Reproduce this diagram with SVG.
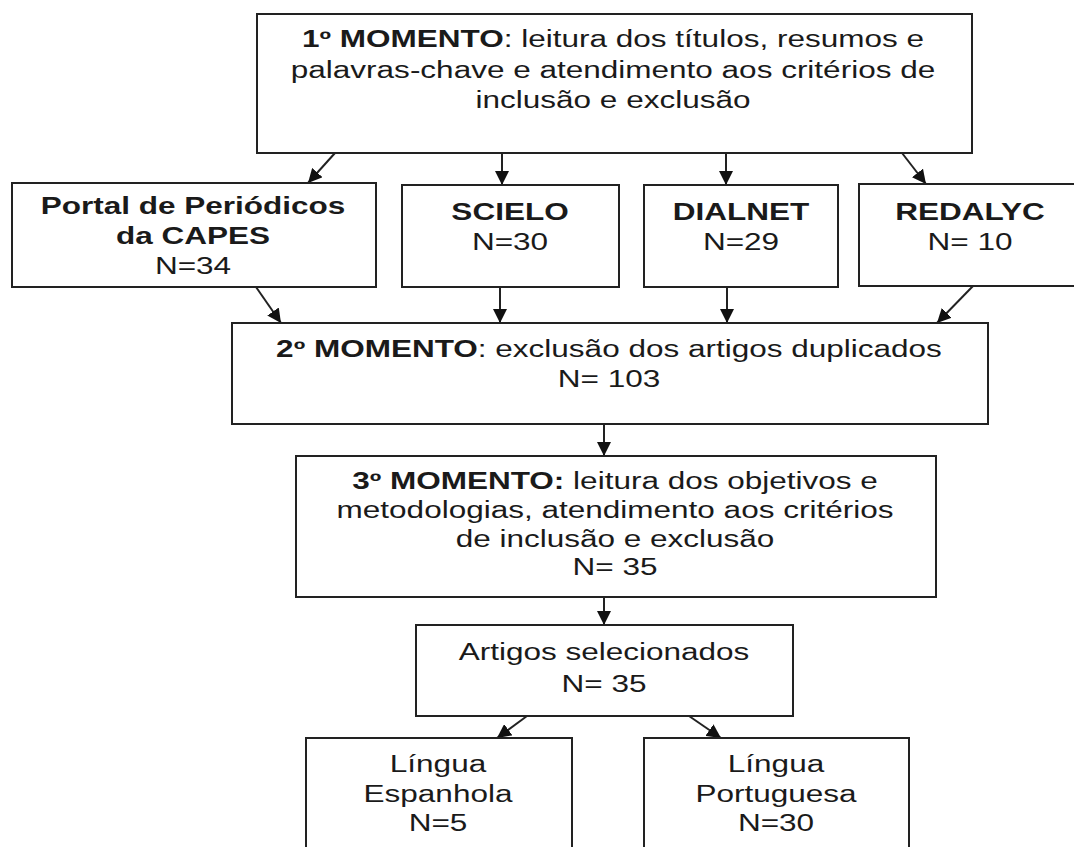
<svg xmlns="http://www.w3.org/2000/svg" width="1074" height="847" viewBox="0 0 1074 847">
<style>
.box{fill:#fff;stroke:#222;stroke-width:2}
.t{font-family:"Liberation Sans",Arial,sans-serif;font-size:23px;fill:#1a1a1a;text-anchor:middle}
.b{font-weight:bold}
.c{stroke:#222;stroke-width:2;fill:none;marker-end:url(#ah)}
</style>
<defs>
<marker id="ah" markerUnits="userSpaceOnUse" markerWidth="14" markerHeight="14" viewBox="0 0 14 14" refX="14" refY="7" orient="auto">
<path d="M0,0 L14,7 L0,14 Z" fill="#111"/>
</marker>
</defs>
<rect width="1074" height="847" fill="#fff"/>
<g id="connectors">
<line class="c" x1="335" y1="153" x2="308" y2="183"/>
<line class="c" x1="502" y1="153" x2="502" y2="185"/>
<line class="c" x1="726" y1="153" x2="726" y2="185"/>
<line class="c" x1="902" y1="153" x2="926" y2="184"/>
<line class="c" x1="256" y1="287" x2="281" y2="323"/>
<line class="c" x1="500" y1="287" x2="500" y2="323"/>
<line class="c" x1="727" y1="287" x2="727" y2="323"/>
<line class="c" x1="973" y1="286" x2="937" y2="323"/>
<line class="c" x1="604" y1="424" x2="604" y2="456"/>
<line class="c" x1="604" y1="597" x2="604" y2="625"/>
<line class="c" x1="527" y1="716" x2="497" y2="738"/>
<line class="c" x1="689" y1="716" x2="721" y2="738"/>
</g>
<g id="n1">
<rect class="box" x="257" y="14" width="715" height="139"/>
<g transform="matrix(1.37,0,0,1,613,0)">
<text class="t" x="0" y="47"><tspan class="b">1º MOMENTO</tspan>: leitura dos títulos, resumos e</text>
<text class="t" x="0" y="78">palavras-chave e atendimento aos critérios de</text>
<text class="t" x="0" y="108">inclusão e exclusão</text>
</g>
</g>
<g id="n_capes">
<rect class="box" x="12" y="183" width="364" height="104"/>
<g transform="matrix(1.37,0,0,1,193,0)">
<text class="t b" x="0" y="214">Portal de Periódicos</text>
<text class="t b" x="0" y="244">da CAPES</text>
<text class="t" x="0" y="274">N=34</text>
</g>
</g>
<g id="n_scielo">
<rect class="box" x="402" y="185" width="217" height="102"/>
<g transform="matrix(1.37,0,0,1,510,0)">
<text class="t b" x="0" y="220">SCIELO</text>
<text class="t" x="0" y="250">N=30</text>
</g>
</g>
<g id="n_dialnet">
<rect class="box" x="644" y="185" width="194" height="102"/>
<g transform="matrix(1.37,0,0,1,741,0)">
<text class="t b" x="0" y="220">DIALNET</text>
<text class="t" x="0" y="250">N=29</text>
</g>
</g>
<g id="n_redalyc">
<rect class="box" x="859" y="184" width="222" height="102"/>
<g transform="matrix(1.37,0,0,1,970,0)">
<text class="t b" x="0" y="220">REDALYC</text>
<text class="t" x="0" y="250">N= 10</text>
</g>
</g>
<g id="n2">
<rect class="box" x="232" y="323" width="756" height="101"/>
<g transform="matrix(1.37,0,0,1,609,0)">
<text class="t" x="0" y="357"><tspan class="b">2º MOMENTO</tspan>: exclusão dos artigos duplicados</text>
<text class="t" x="0" y="387">N= 103</text>
</g>
</g>
<g id="n3">
<rect class="box" x="296" y="456" width="640" height="141"/>
<g transform="matrix(1.37,0,0,1,615,0)">
<text class="t" x="0" y="489"><tspan class="b">3º MOMENTO:</tspan> leitura dos objetivos e</text>
<text class="t" x="0" y="518">metodologias, atendimento aos critérios</text>
<text class="t" x="0" y="547">de inclusão e exclusão</text>
<text class="t" x="0" y="575">N= 35</text>
</g>
</g>
<g id="n_sel">
<rect class="box" x="416" y="625" width="377" height="91"/>
<g transform="matrix(1.37,0,0,1,604,0)">
<text class="t" x="0" y="660">Artigos selecionados</text>
<text class="t" x="0" y="692">N= 35</text>
</g>
</g>
<g id="n_esp">
<rect class="box" x="306" y="738" width="266" height="130"/>
<g transform="matrix(1.37,0,0,1,438,0)">
<text class="t" x="0" y="772">Língua</text>
<text class="t" x="0" y="802">Espanhola</text>
<text class="t" x="0" y="831">N=5</text>
</g>
</g>
<g id="n_por">
<rect class="box" x="644" y="738" width="265" height="130"/>
<g transform="matrix(1.37,0,0,1,776,0)">
<text class="t" x="0" y="772">Língua</text>
<text class="t" x="0" y="802">Portuguesa</text>
<text class="t" x="0" y="831">N=30</text>
</g>
</g>
</svg>
